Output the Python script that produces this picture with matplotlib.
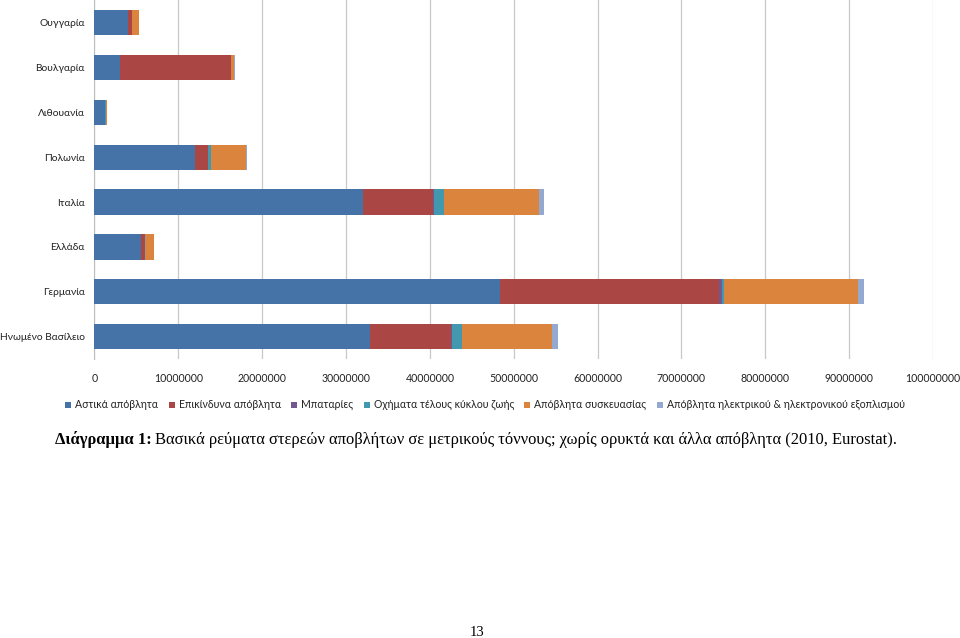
import matplotlib.pyplot as plt
from matplotlib.patches import Rectangle

plt.rcParams['font.family'] = ['Lato', 'DejaVu Sans']

countries = ["Ουγγαρία", "Βουλγαρία", "Λιθουανία", "Πολωνία",
             "Ιταλία", "Ελλάδα", "Γερμανία", "Ηνωμένο Βασίλειο"]

series_names = ["Αστικά απόβλητα", "Επικίνδυνα απόβλητα", "Μπαταρίες",
                "Οχήματα τέλους κύκλου ζωής", "Απόβλητα συσκευασίας",
                "Απόβλητα ηλεκτρικού & ηλεκτρονικού εξοπλισμού"]

# tonnes (same order as countries)
municipal = [4000000, 3040000, 1200000, 12000000, 32000000, 5600000, 48400000, 32900000]
hazardous = [450000, 13200000, 100000, 1500000, 8400000, 300000, 26100000, 9600000]
batteries = [20000, 10000, 5000, 40000, 50000, 100000, 300000, 200000]
vehicles = [50000, 30000, 20000, 300000, 1250000, 50000, 300000, 1100000]
packaging = [800000, 400000, 150000, 4200000, 11300000, 1000000, 16000000, 10800000]
weee = [40000, 30000, 20000, 200000, 600000, 60000, 700000, 700000]

colors = ["#4572A7", "#AA4643", "#71588F", "#4198AF", "#DB843D", "#93A9CF"]

fig = plt.figure(figsize=(9.6, 6.38), dpi=100)
ax = fig.add_axes([0.0984, 0.437, 0.8734, 0.563])

series = [municipal, hazardous, batteries, vehicles, packaging, weee]
ypos = list(range(len(countries)))[::-1]
left = [0] * len(countries)
for vals, col in zip(series, colors):
    ax.barh(ypos, vals, left=left, height=0.56, color=col, zorder=3)
    left = [a + b for a, b in zip(left, vals)]

ax.set_xlim(0, 100000000)
ax.set_ylim(-0.5, len(countries) - 0.5)
ax.set_xticks(range(0, 100000001, 10000000))
ax.set_xticklabels([str(v) for v in range(0, 100000001, 10000000)])
ax.set_yticks(ypos)
ax.set_yticklabels(countries)
ax.tick_params(axis='x', length=0, pad=10, labelsize=7.6, colors='#222222')
ax.tick_params(axis='y', length=0, pad=7, labelsize=7.4, colors='#222222')
ax.grid(axis='x', color='#c8c8c8', linewidth=0.9, zorder=0)
for s in ['top', 'right', 'bottom']:
    ax.spines[s].set_visible(False)
ax.spines['left'].set_color('#bdbdbd')

# legend drawn by hand in one row: square + label, spread over 65..905 px
fig.canvas.draw()
r = fig.canvas.get_renderer()
W, H = fig.bbox.width, fig.bbox.height
sq, gap_t = 6, 4
leg_y = H - 408
texts = []
widths = []
for name in series_names:
    t = fig.text(0, leg_y / H, name, fontsize=7.6, color='#222222', va='baseline')
    widths.append(t.get_window_extent(renderer=r).width)
    texts.append(t)
x0, x1 = 65, 905
col_gap = (x1 - x0 - sum(w + sq + gap_t for w in widths)) / (len(widths) - 1)
x = x0
for t, w, c in zip(texts, widths, colors):
    fig.add_artist(Rectangle((x / W, (leg_y + 0.5) / H), sq / W, sq / H,
                             transform=fig.transFigure, facecolor=c, edgecolor='none'))
    t.set_x((x + sq + gap_t) / W)
    x += sq + gap_t + w + col_gap

t1 = fig.text(0.057, 0.311, "Διάγραμμα 1:", family='Liberation Serif',
              fontweight='bold', fontsize=11.9, va='center')
bb = t1.get_window_extent(renderer=r)
fig.text(bb.x1 / W + 0.004, 0.311,
         "Βασικά ρεύματα στερεών αποβλήτων σε μετρικούς τόννους; χωρίς ορυκτά και άλλα απόβλητα (2010, Eurostat).",
         family='Liberation Serif', fontsize=11.9, va='center')

fig.text(0.497, 0.009, "13", family='Liberation Serif', fontsize=10.5, ha='center', va='center')

fig.savefig("out.png", dpi=100)
